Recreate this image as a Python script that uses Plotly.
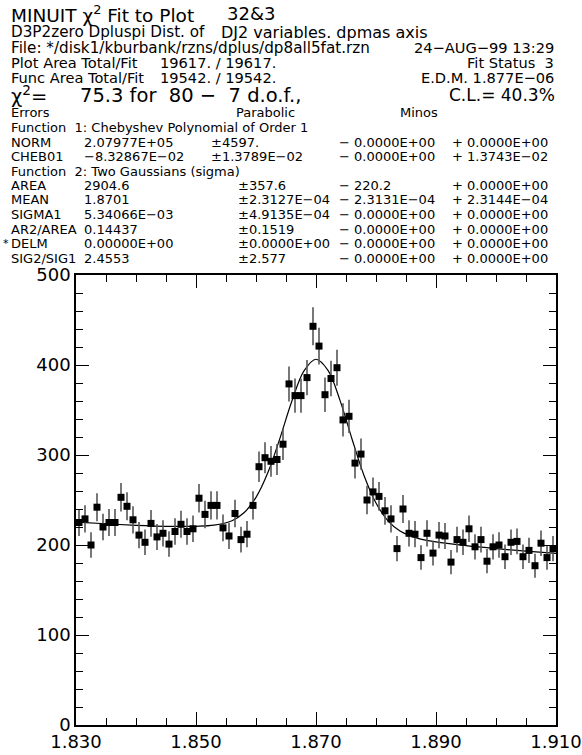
import numpy as np
import plotly.graph_objects as go

# ---- data ----
bin_low = 1.830
bin_width = 0.001
counts = [225, 229, 200, 242, 220, 225, 225, 253, 243, 228,
          211, 203, 224, 209, 213, 201, 215, 223, 215, 218,
          252, 234, 244, 244, 219, 210, 235, 206, 212, 244,
          287, 297, 293, 295, 312, 379, 366, 366, 386, 443,
          421, 367, 385, 397, 339, 343, 291, 301, 250, 259,
          254, 238, 229, 196, 240, 213, 212, 186, 213, 191,
          211, 210, 181, 206, 203, 218, 198, 206, 182, 198,
          200, 187, 203, 204, 187, 194, 177, 202, 186, 196]
bin_centers = [round(bin_low + (i + 0.5) * bin_width, 4) for i in range(len(counts))]

fit_x = [1.830, 1.835, 1.840, 1.845, 1.850, 1.853, 1.856, 1.858, 1.860, 1.862,
         1.864, 1.866, 1.868, 1.870, 1.872, 1.874, 1.876, 1.878, 1.880, 1.882,
         1.884, 1.887, 1.890, 1.895, 1.900, 1.905, 1.910]
fit_y = [225.4, 223.6, 221.9, 220.8, 220.8, 222.0, 227.0, 235.8, 252.9, 280.8,
         318.8, 360.2, 393.4, 406.4, 394.0, 360.7, 317.8, 277.3, 246.6, 226.8,
         215.5, 207.4, 203.5, 199.3, 196.0, 193.2, 190.8]

x_tickvals = [1.830, 1.850, 1.870, 1.890, 1.910]
x_ticktext = ["1.830", "1.850", "1.870", "1.890", "1.910"]
y_tickvals = [0, 100, 200, 300, 400, 500]
y_ticktext = ["0", "100", "200", "300", "400", "500"]

param_rows = [
    ("NORM", "2.07977E+05", "\u00b14597.", "\u2212 0.0000E+00", "+ 0.0000E+00", 1),
    ("CHEB01", "\u22128.32867E\u221202", "\u00b11.3789E\u221202", "\u2212 0.0000E+00", "+ 1.3743E\u221202", 1),
    ("AREA", "2904.6", "\u00b1357.6", "\u2212 220.2", "+ 0.0000E+00", 2),
    ("MEAN", "1.8701", "\u00b12.3127E\u221204", "\u2212 2.3131E\u221204", "+ 2.3144E\u221204", 2),
    ("SIGMA1", "5.34066E\u221203", "\u00b14.9135E\u221204", "\u2212 0.0000E+00", "+ 0.0000E+00", 2),
    ("AR2/AREA", "0.14437", "\u00b10.1519", "\u2212 0.0000E+00", "+ 0.0000E+00", 2),
    ("DELM", "0.00000E+00", "\u00b10.0000E+00", "\u2212 0.0000E+00", "+ 0.0000E+00", 2),
    ("SIG2/SIG1", "2.4553", "\u00b12.577", "\u2212 0.0000E+00", "+ 0.0000E+00", 2),
]

# ---- layout geometry (page pixels) ----
W, H = 582, 755
L, T = 76, 275            # plot area top-left
PW, PH = 480, 450         # plot area size
R, B = W - L - PW, H - T - PH
FONT = "DejaVu Sans"


def px(x):
    return (x - L) / PW


def py(y):
    return (T + PH - y) / PH


fig = go.Figure()

fig.add_trace(go.Scatter(
    x=fit_x, y=fit_y, mode="lines",
    line=dict(color="black", width=1.2, shape="spline", smoothing=1.0),
    hoverinfo="skip", showlegend=False))

fig.add_trace(go.Scatter(
    x=bin_centers, y=counts, mode="markers",
    marker=dict(symbol="square", size=7, color="black"),
    error_y=dict(type="sqrt", visible=True, color="#555555", thickness=1.6, width=0),
    showlegend=False))

annotations = []


def ann(text, x, y, size=13.0, anchor="left"):
    annotations.append(dict(
        text=text, x=px(x), y=py(y), xref="paper", yref="paper",
        xanchor=anchor, yanchor="middle", showarrow=False,
        borderpad=0, borderwidth=0,
        font=dict(family=FONT, size=size, color="black")))


HS = 14.6  # header line size
TS = 13.0  # table size
ann("MINUIT \u03c7<sup>2</sup> Fit to Plot", 11, 14, 18.5)
ann("32&3", 227, 14, 18)
ann("D3P2zero Dpluspi Dist. of", 11, 32.5, 15.2)
ann("DJ2 variables. dpmas axis", 221, 32.5, 16.0)
ann("File: */disk1/kburbank/rzns/dplus/dp8all5fat.rzn", 11, 47.5, 15.2)
ann("24\u2212AUG\u221299 13:29", 554, 47.5, HS, "right")
ann("Plot Area Total/Fit", 11, 62.5, HS)
ann("19617. / 19617.", 160, 62.5, HS)
ann("Fit Status  3", 554, 62.5, HS, "right")
ann("Func Area Total/Fit", 11, 77, HS)
ann("19542. / 19542.", 160, 77, HS)
ann("E.D.M. 1.877E\u221206", 554, 77, HS, "right")
ann("\u03c7<sup>2</sup>=", 11, 95, 19.5)
ann("75.3 for  80 \u2212  7 d.o.f.,", 80, 95, 19.5)
ann("C.L.= 40.3%", 555, 95, 17, "right")
ann("Errors", 11, 113, TS)
ann("Parabolic", 236, 113, TS)
ann("Minos", 400, 113, TS)
ann("Function  1: Chebyshev Polynomial of Order 1", 11, 127.5, TS)

row_y = [142, 156.5, 185.5, 200, 214.5, 229, 243.5, 258]
ann("Function  2: Two Gaussians (sigma)", 11, 171, TS)
for (name, val, perr, mneg, mpos, fn), yy in zip(param_rows, row_y):
    ann(name, 11, yy, TS)
    ann(val, 84, yy, TS)
    ann(perr, 211 if fn == 1 else 238, yy, TS)
    ann(mneg, 339, yy, TS)
    ann(mpos, 452, yy, TS)
ann("*", 3, 243.5, 11)

axis_common = dict(
    showline=True, linecolor="black", linewidth=1.5, mirror="ticks",
    ticks="inside", ticklen=13, tickwidth=1.3, tickcolor="black",
    showgrid=False, zeroline=False, automargin=False,
    tickfont=dict(family=FONT, size=18, color="black"),
)

fig.update_layout(
    width=W, height=H,
    margin=dict(l=L, r=R, t=T, b=B, pad=0, autoexpand=False),
    paper_bgcolor="white", plot_bgcolor="white",
    showlegend=False,
    annotations=annotations,
    xaxis=dict(range=[1.830, 1.910], tickvals=x_tickvals, ticktext=x_ticktext,
               minor=dict(dtick=0.005, tick0=1.830, ticks="inside", ticklen=7,
                          tickwidth=1.3, tickcolor="black", showgrid=False),
               **axis_common),
    yaxis=dict(range=[0, 500], tickvals=y_tickvals, ticktext=y_ticktext,
               minor=dict(dtick=20, tick0=0, ticks="inside", ticklen=7,
                          tickwidth=1.3, tickcolor="black", showgrid=False),
               **axis_common),
)

fig.write_html("out.html", config={"displayModeBar": False},
               post_script="document.body.style.margin='0px';")
